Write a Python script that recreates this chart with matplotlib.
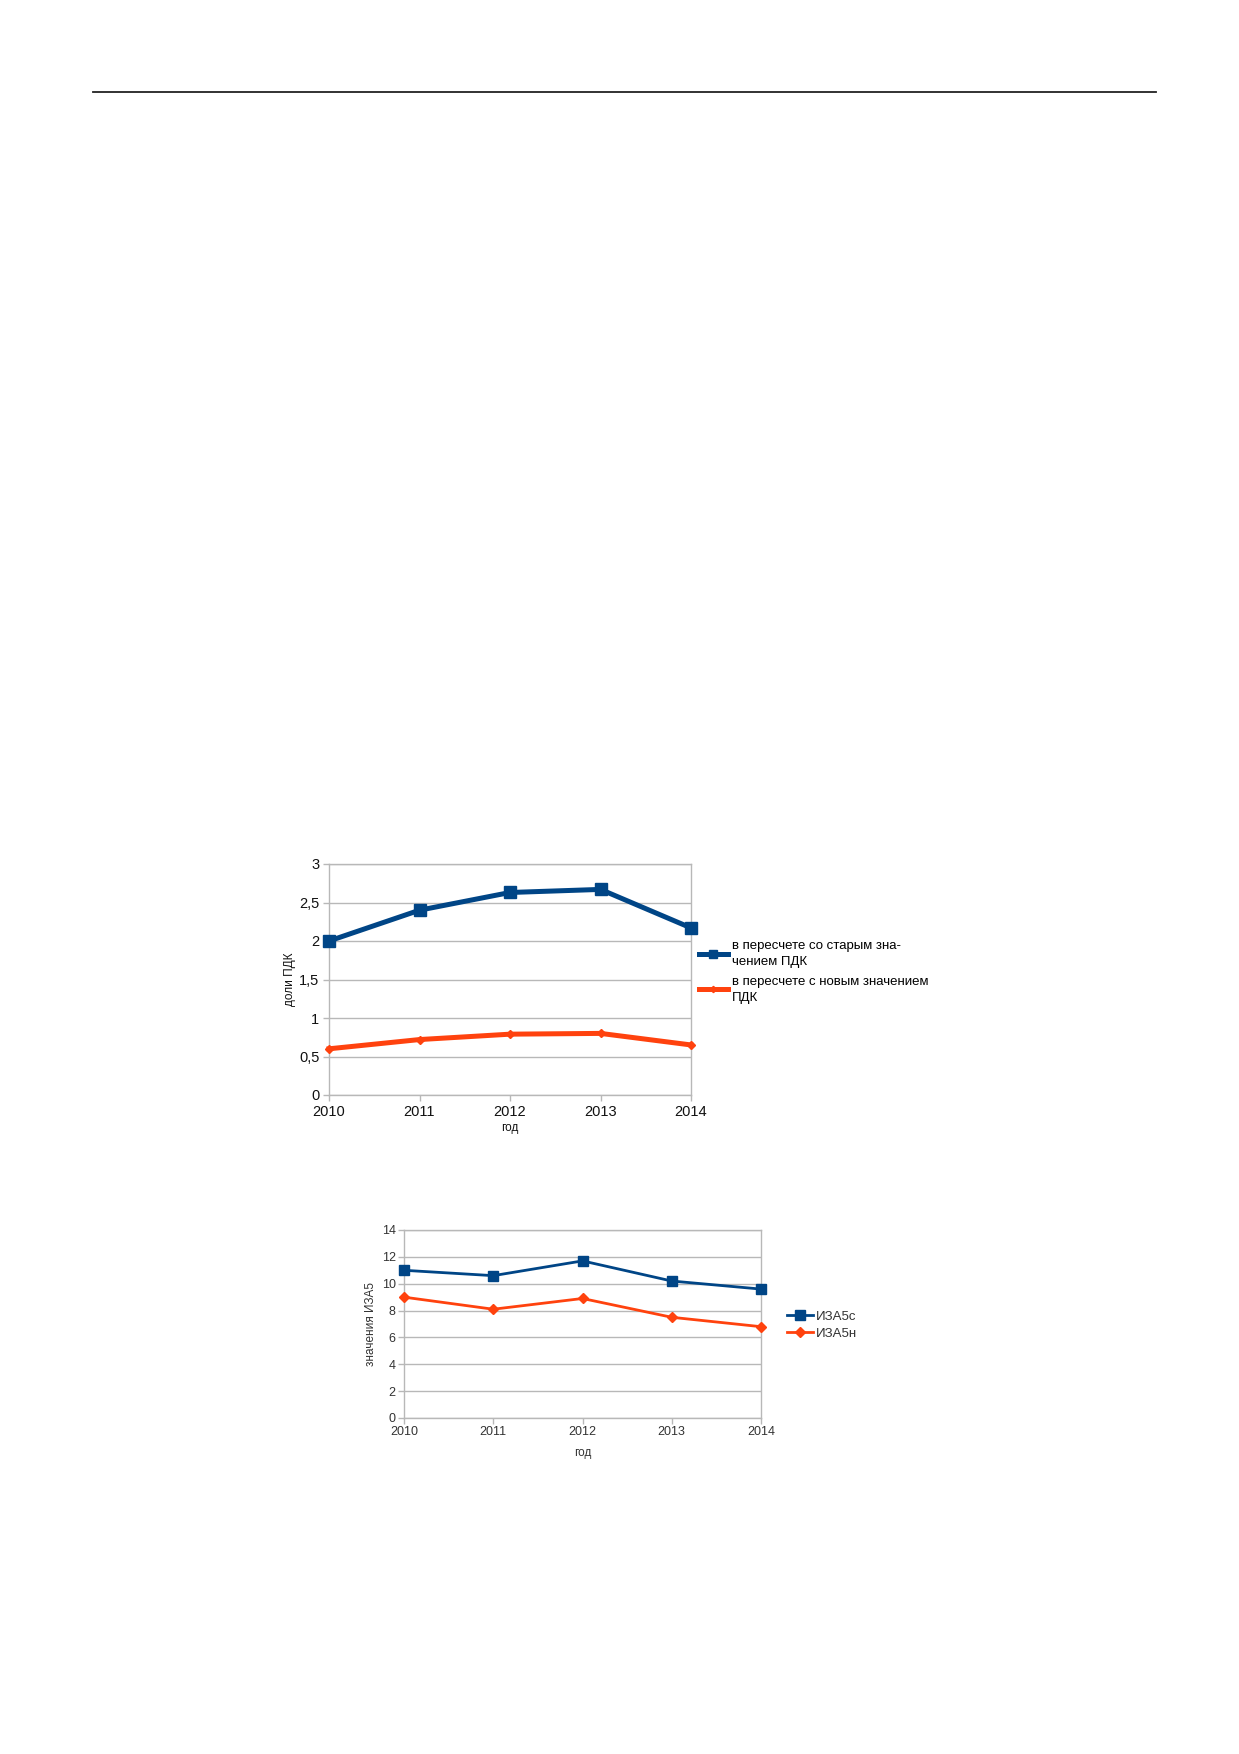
import matplotlib
matplotlib.use('Agg')
import matplotlib.pyplot as plt
from matplotlib.lines import Line2D

# data
years = [2010, 2011, 2012, 2013, 2014]
pdk_old = [2.0, 2.4, 2.63, 2.67, 2.17]
pdk_new = [0.6, 0.72, 0.79, 0.8, 0.65]
iza_c = [11.0, 10.6, 11.7, 10.2, 9.6]
iza_n = [9.0, 8.1, 8.9, 7.5, 6.8]

label_old = 'в пересчете со старым зна-\nчением ПДК'
label_new = 'в пересчете с новым значением\nПДК'

BLUE = '#004586'
ORANGE = '#ff420e'
GRID = '#b8b8b8'
FONT = 'Liberation Sans'

W, H = 1239, 1754
fig = plt.figure(figsize=(W / 100, H / 100), dpi=100)

def px_axes(x0, y0, x1, y1):
    # axes box given in pixel coords of the page (top-left origin)
    return fig.add_axes([x0 / W, 1 - y1 / H, (x1 - x0) / W, (y1 - y0) / H])

def style_axes(ax, size, color, pad=3):
    for s in ax.spines.values():
        s.set_color(GRID)
        s.set_linewidth(1.0)
    ax.grid(True, axis='y', color=GRID, linewidth=1.0)
    ax.set_axisbelow(True)
    ax.tick_params(colors=GRID, length=4, width=1.0, labelcolor=color, labelsize=size, pad=pad)
    for t in ax.get_xticklabels() + ax.get_yticklabels():
        t.set_family(FONT)

# page header rule
fig.add_artist(Line2D([93 / W, 1156 / W], [1 - 92 / H, 1 - 92 / H], color='#222222', linewidth=1.3))

# chart 1
ax1 = px_axes(329, 864, 691, 1095)
ax1.plot(years, pdk_old, color=BLUE, linewidth=3.6, marker='s', markersize=8, label=label_old,
         clip_on=False, zorder=3)
ax1.plot(years, pdk_new, color=ORANGE, linewidth=3.6, marker='D', markersize=4, label=label_new,
         clip_on=False, zorder=3)
ax1.set_xlim(2010, 2014)
ax1.set_ylim(0, 3)
ax1.set_xticks(years)
ax1.set_yticks([0, 0.5, 1, 1.5, 2, 2.5, 3])
ax1.set_yticklabels(['0', '0,5', '1', '1,5', '2', '2,5', '3'])
style_axes(ax1, 10.5, '#111111')
ax1.set_xlabel('год', family=FONT, fontsize=8.5, color='#111111', labelpad=2)
ax1.set_ylabel('доли ПДК', family=FONT, fontsize=8.5, color='#111111', labelpad=2)
leg1 = ax1.legend(loc='upper left', bbox_to_anchor=(692 / W, 1 - 933 / H), bbox_transform=fig.transFigure,
                  frameon=False, handlelength=2.2, handletextpad=0.3, labelspacing=0.6, borderpad=0,
                  markerscale=0.8, prop={'family': FONT, 'size': 9.5})
for t in leg1.get_texts():
    t.set_linespacing(1.45)

# chart 2
ax2 = px_axes(404, 1230, 761, 1418)
ax2.plot(years, iza_c, color=BLUE, linewidth=2.0, marker='s', markersize=7, label='ИЗА5с',
         clip_on=False, zorder=3)
ax2.plot(years, iza_n, color=ORANGE, linewidth=2.0, marker='D', markersize=5, label='ИЗА5н',
         clip_on=False, zorder=3)
ax2.set_xlim(2010, 2014)
ax2.set_ylim(0, 14)
ax2.set_xticks(years)
ax2.set_yticks(range(0, 15, 2))
style_axes(ax2, 9, '#333333', pad=2)
ax2.set_xlabel('год', family=FONT, fontsize=8.5, color='#333333', labelpad=6)
ax2.set_ylabel('значения ИЗА5', family=FONT, fontsize=8.5, color='#333333', labelpad=3)
leg2 = ax2.legend(loc='upper left', bbox_to_anchor=(780 / W, 1 - 1304 / H), bbox_transform=fig.transFigure,
                  frameon=False, handlelength=2.0, handletextpad=0.2, labelspacing=0.35, borderpad=0,
                  prop={'family': FONT, 'size': 9.5})
for t in leg2.get_texts():
    t.set_color('#333333')

fig.savefig('out.png', dpi=100)
